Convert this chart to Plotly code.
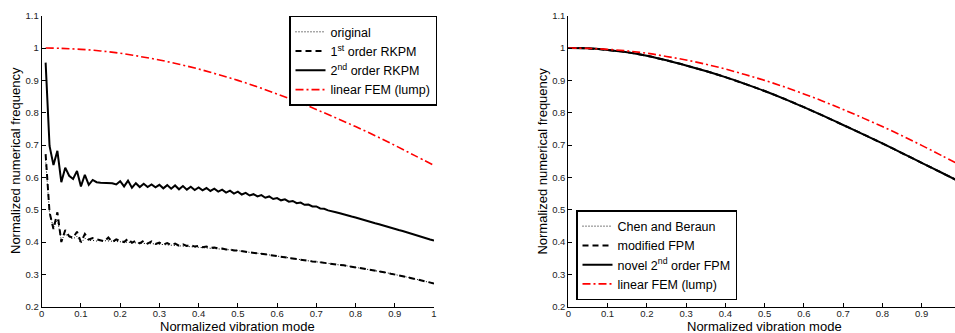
import plotly.graph_objects as go

# ---------------- data (left panel: modes 1..100, normalized) ----------------
mode_x = [0.01, 0.02, 0.03, 0.04, 0.05, 0.06, 0.07, 0.08, 0.09, 0.10,
          0.11, 0.12, 0.13, 0.14, 0.15, 0.16, 0.17, 0.18, 0.19, 0.20,
          0.21, 0.22, 0.23, 0.24, 0.25, 0.26, 0.27, 0.28, 0.29, 0.30,
          0.31, 0.32, 0.33, 0.34, 0.35, 0.36, 0.37, 0.38, 0.39, 0.40,
          0.41, 0.42, 0.43, 0.44, 0.45, 0.46, 0.47, 0.48, 0.49, 0.50,
          0.51, 0.52, 0.53, 0.54, 0.55, 0.56, 0.57, 0.58, 0.59, 0.60,
          0.61, 0.62, 0.63, 0.64, 0.65, 0.66, 0.67, 0.68, 0.69, 0.70,
          0.71, 0.72, 0.73, 0.74, 0.75, 0.76, 0.77, 0.78, 0.79, 0.80,
          0.81, 0.82, 0.83, 0.84, 0.85, 0.86, 0.87, 0.88, 0.89, 0.90,
          0.91, 0.92, 0.93, 0.94, 0.95, 0.96, 0.97, 0.98, 0.99, 1.00]

original = [0.655, 0.488, 0.445, 0.470, 0.405, 0.425, 0.415, 0.410, 0.418, 0.396,
            0.412, 0.405, 0.405, 0.403, 0.405, 0.404, 0.403, 0.403, 0.402, 0.401,
            0.400, 0.399, 0.399, 0.398, 0.397, 0.396, 0.395, 0.395, 0.394, 0.393,
            0.392, 0.391, 0.391, 0.390, 0.389, 0.388, 0.388, 0.387, 0.386, 0.385,
            0.384, 0.383, 0.382, 0.381, 0.380, 0.379, 0.378, 0.377, 0.375, 0.374,
            0.371, 0.370, 0.368, 0.367, 0.365, 0.364, 0.362, 0.360, 0.358, 0.357,
            0.355, 0.353, 0.351, 0.350, 0.348, 0.346, 0.344, 0.342, 0.340, 0.339,
            0.337, 0.336, 0.334, 0.332, 0.331, 0.329, 0.328, 0.326, 0.325, 0.323,
            0.321, 0.318, 0.316, 0.314, 0.311, 0.309, 0.307, 0.305, 0.302, 0.300,
            0.297, 0.294, 0.292, 0.289, 0.286, 0.283, 0.280, 0.278, 0.275, 0.272]

rkpm1 = [0.672, 0.492, 0.440, 0.492, 0.400, 0.437, 0.418, 0.413, 0.432, 0.400,
         0.425, 0.408, 0.412, 0.408, 0.406, 0.402, 0.414, 0.400, 0.408, 0.405,
         0.400, 0.410, 0.398, 0.404, 0.396, 0.404, 0.395, 0.402, 0.394, 0.398,
         0.392, 0.397, 0.391, 0.395, 0.389, 0.393, 0.388, 0.391, 0.386, 0.388,
         0.384, 0.386, 0.382, 0.383, 0.380, 0.380, 0.377, 0.377, 0.374, 0.374,
         0.371, 0.370, 0.368, 0.367, 0.365, 0.364, 0.362, 0.360, 0.358, 0.357,
         0.355, 0.353, 0.351, 0.350, 0.348, 0.346, 0.344, 0.342, 0.340, 0.339,
         0.337, 0.336, 0.334, 0.332, 0.331, 0.329, 0.328, 0.326, 0.325, 0.323,
         0.321, 0.318, 0.316, 0.314, 0.311, 0.309, 0.307, 0.305, 0.302, 0.300,
         0.297, 0.294, 0.292, 0.289, 0.286, 0.283, 0.280, 0.278, 0.275, 0.272]

rkpm2 = [0.955, 0.697, 0.638, 0.682, 0.585, 0.630, 0.605, 0.595, 0.620, 0.572,
         0.608, 0.577, 0.592, 0.585, 0.583, 0.583, 0.583, 0.582, 0.578, 0.588,
         0.572, 0.590, 0.568, 0.582, 0.570, 0.580, 0.570, 0.578, 0.569, 0.577,
         0.566, 0.576, 0.565, 0.575, 0.563, 0.573, 0.562, 0.571, 0.561, 0.569,
         0.560, 0.567, 0.558, 0.565, 0.556, 0.562, 0.553, 0.559, 0.550, 0.556,
         0.547, 0.552, 0.544, 0.548, 0.541, 0.545, 0.537, 0.541, 0.533, 0.536,
         0.529, 0.532, 0.525, 0.527, 0.520, 0.522, 0.515, 0.516, 0.510, 0.510,
         0.504, 0.503, 0.498, 0.496, 0.492, 0.489, 0.485, 0.482, 0.479, 0.476,
         0.472, 0.469, 0.465, 0.462, 0.458, 0.455, 0.451, 0.448, 0.444, 0.441,
         0.437, 0.434, 0.430, 0.426, 0.423, 0.419, 0.415, 0.412, 0.408, 0.405]

# FEM (lumped) reference curve
fem_x_left = [0.01, 0.05, 0.10, 0.15, 0.20, 0.25, 0.30, 0.35, 0.40, 0.45, 0.50,
              0.55, 0.60, 0.65, 0.70, 0.75, 0.80, 0.85, 0.90, 0.95, 1.00]
fem_left = [1.000, 0.999, 0.996, 0.991, 0.984, 0.974, 0.963, 0.950, 0.935, 0.918, 0.900,
            0.880, 0.858, 0.835, 0.810, 0.784, 0.757, 0.729, 0.699, 0.668, 0.637]

# ---------------- data (right panel) ----------------
right_x = [0.00, 0.05, 0.10, 0.15, 0.20, 0.25, 0.30, 0.35, 0.40, 0.45, 0.50,
           0.55, 0.60, 0.65, 0.70, 0.75, 0.80, 0.85, 0.90, 0.95, 1.00]
chen_beraun = [1.000, 0.999, 0.994, 0.987, 0.976, 0.962, 0.946, 0.929, 0.910, 0.889, 0.867,
               0.843, 0.817, 0.790, 0.762, 0.734, 0.705, 0.675, 0.645, 0.615, 0.585]
modified_fpm = [1.000, 0.999, 0.994, 0.987, 0.976, 0.962, 0.946, 0.929, 0.910, 0.889, 0.867,
                0.843, 0.817, 0.790, 0.762, 0.734, 0.705, 0.675, 0.645, 0.615, 0.585]
novel_fpm = [1.000, 0.999, 0.994, 0.987, 0.976, 0.962, 0.946, 0.929, 0.910, 0.889, 0.867,
             0.843, 0.817, 0.790, 0.762, 0.734, 0.705, 0.675, 0.645, 0.615, 0.585]
fem_right = [1.000, 0.999, 0.996, 0.991, 0.984, 0.974, 0.963, 0.950, 0.935, 0.918, 0.900,
             0.880, 0.858, 0.835, 0.810, 0.784, 0.757, 0.729, 0.699, 0.668, 0.637]

x_ticks = [0, 0.1, 0.2, 0.3, 0.4, 0.5, 0.6, 0.7, 0.8, 0.9, 1]
x_ticktext = ["0", "0.1", "0.2", "0.3", "0.4", "0.5", "0.6", "0.7", "0.8", "0.9", "1"]
y_ticks = [0.2, 0.3, 0.4, 0.5, 0.6, 0.7, 0.8, 0.9, 1.0, 1.1]
y_ticktext = ["0.2", "0.3", "0.4", "0.5", "0.6", "0.7", "0.8", "0.9", "1", "1.1"]
x_title = "Normalized vibration mode"
y_title = "Normalized numerical frequency"

# ---------------- figure ----------------
FONT = "Liberation Sans, Arial, sans-serif"
RED = "#ff0000"
DOT = "1px,2px"
DASH = "6px,4px"
DASHDOT = "8px,3px,2px,3px"

fig = go.Figure()

fig.add_trace(go.Scatter(x=mode_x, y=original, mode="lines", name="original",
                         line=dict(color="black", width=1, dash=DOT),
                         xaxis="x", yaxis="y", legend="legend"))
fig.add_trace(go.Scatter(x=mode_x, y=rkpm1, mode="lines", name="1<sup>st</sup> order RKPM",
                         line=dict(color="black", width=2, dash=DASH),
                         xaxis="x", yaxis="y", legend="legend"))
fig.add_trace(go.Scatter(x=mode_x, y=rkpm2, mode="lines", name="2<sup>nd</sup> order RKPM",
                         line=dict(color="black", width=2),
                         xaxis="x", yaxis="y", legend="legend"))
fig.add_trace(go.Scatter(x=fem_x_left, y=fem_left, mode="lines", name="linear FEM (lump)",
                         line=dict(color=RED, width=1.6, dash=DASHDOT, shape="spline"),
                         xaxis="x", yaxis="y", legend="legend"))

fig.add_trace(go.Scatter(x=right_x, y=chen_beraun, mode="lines", name="Chen and Beraun",
                         line=dict(color="black", width=1, dash=DOT, shape="spline"),
                         xaxis="x2", yaxis="y2", legend="legend2"))
fig.add_trace(go.Scatter(x=right_x, y=modified_fpm, mode="lines", name="modified FPM",
                         line=dict(color="black", width=2, dash=DASH, shape="spline"),
                         xaxis="x2", yaxis="y2", legend="legend2"))
fig.add_trace(go.Scatter(x=right_x, y=novel_fpm, mode="lines", name="novel 2<sup>nd</sup> order FPM",
                         line=dict(color="black", width=2, shape="spline"),
                         xaxis="x2", yaxis="y2", legend="legend2"))
fig.add_trace(go.Scatter(x=right_x, y=fem_right, mode="lines", name="linear FEM (lump)",
                         line=dict(color=RED, width=1.6, dash=DASHDOT, shape="spline"),
                         xaxis="x2", yaxis="y2", legend="legend2"))

W, H = 955, 333
TOP, BOT = 15.7, 306.7
L1, R1 = 41.7, 434.0
L2 = 568.3
y_dom = [(H - BOT) / H, (H - TOP) / H]

axis_common = dict(
    showline=True, linecolor="black", linewidth=1, mirror=False,
    showgrid=False, zeroline=False, ticks="inside", ticklen=4, tickcolor="black",
    tickfont=dict(family=FONT, size=9.5, color="#222222"),
    automargin=False,
)

title_font = dict(family=FONT, size=13, color="black")
annotations = []
for xl, xr in [(L1, R1), (L2, L2 + (R1 - L1))]:
    annotations.append(dict(text=x_title, xref="paper", yref="paper",
                            x=((xl + xr) / 2) / W, y=(H - 326.6) / H,
                            xanchor="center", yanchor="middle", showarrow=False,
                            borderpad=0, font=title_font))
    annotations.append(dict(text=y_title, xref="paper", yref="paper",
                            x=(xl - 26.7) / W, y=(H - 161) / H, textangle=-90,
                            xanchor="center", yanchor="middle", showarrow=False,
                            font=title_font))

LEG_FONT = dict(family=FONT, size=12.5, color="black")
fig.update_layout(
    width=W, height=H,
    margin=dict(l=0, r=0, t=0, b=0),
    paper_bgcolor="white", plot_bgcolor="white",
    font=dict(family=FONT, color="black"),
    xaxis=dict(domain=[L1 / W, R1 / W], range=[0, 1], anchor="y",
               tickvals=x_ticks, ticktext=x_ticktext, ticklabelstandoff=-2, **axis_common),
    yaxis=dict(domain=y_dom, range=[0.2, 1.1], anchor="x",
               tickvals=y_ticks, ticktext=y_ticktext, **axis_common),
    xaxis2=dict(domain=[L2 / W, 1.0], range=[0, 0.985], anchor="y2",
                tickvals=x_ticks, ticktext=x_ticktext, ticklabelstandoff=-2, **axis_common),
    yaxis2=dict(domain=y_dom, range=[0.2, 1.1], anchor="x2",
                tickvals=y_ticks, ticktext=y_ticktext, **axis_common),
    legend=dict(x=289 / W, y=(H - TOP) / H, xanchor="left", yanchor="top",
                bgcolor="white", bordercolor="black", borderwidth=1.5,
                font=LEG_FONT, tracegroupgap=0, itemwidth=30),
    legend2=dict(x=576 / W, y=(H - 300) / H, xanchor="left", yanchor="bottom",
                 bgcolor="white", bordercolor="black", borderwidth=1.5,
                 font=LEG_FONT, tracegroupgap=0, itemwidth=30),
    annotations=annotations,
    showlegend=True,
)

fig.write_html("out.html",
               config={"displayModeBar": False},
               post_script="document.body.style.margin='0';document.body.style.padding='0';"
                           "document.body.style.overflow='hidden';")
